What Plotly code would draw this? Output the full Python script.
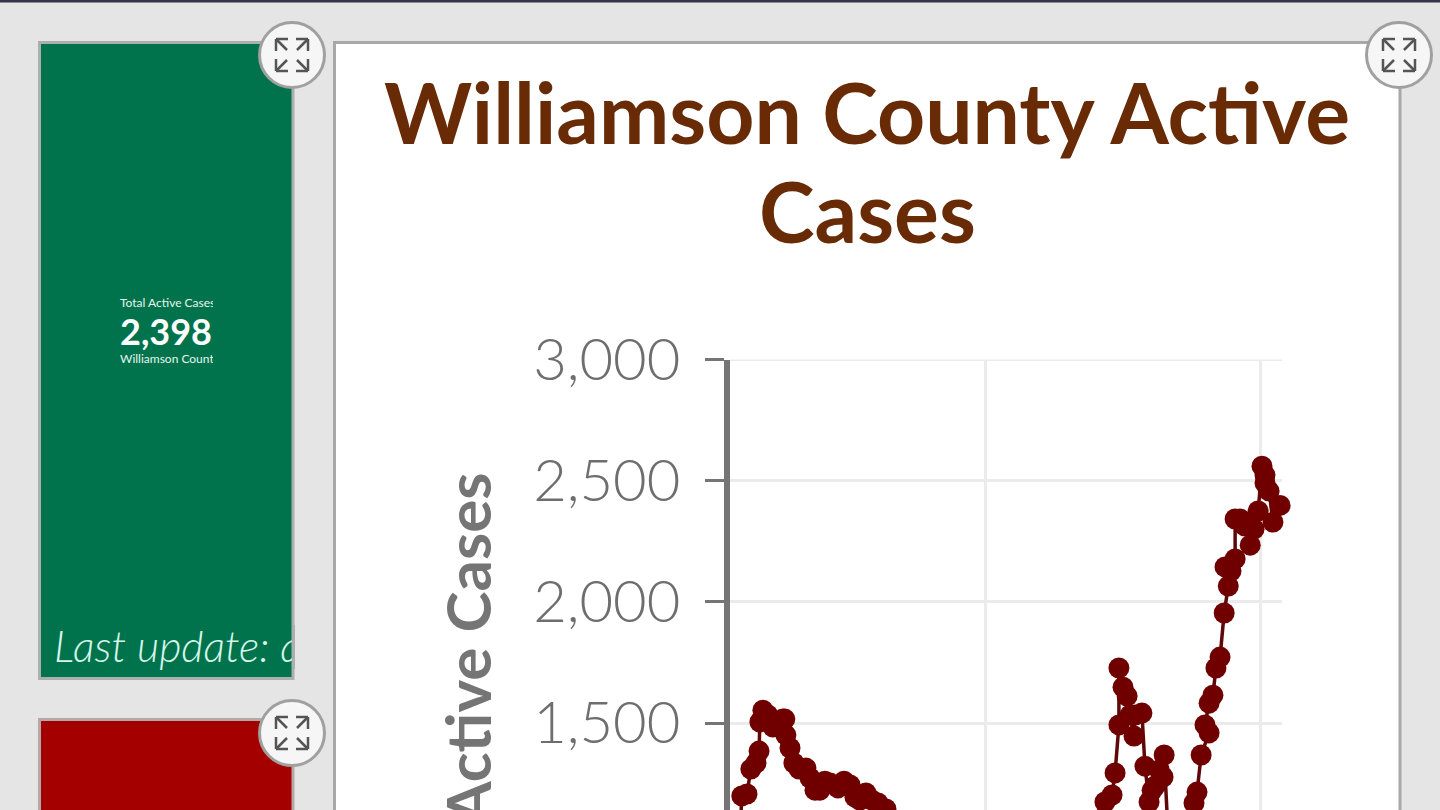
import plotly.graph_objects as go

W, H = 1440, 810

# Active cases
day_a = [10.6,10.9,12.8,14.2,16.1,17.2,17.5,18.6,20.4,22.3,25.9,26.6,27,28.5,29.9,31.8,34.3,35.8,37.6,39.4,41.2,43.1,46,48.2,50.4,52.2,54,56.2,58.4,60.6,63.5]
val_a = [1120,1199,1207,1310,1335,1384,1504,1553,1533,1483,1516,1516,1450,1397,1335,1310,1314,1273,1223,1223,1260,1252,1232,1260,1244,1194,1182,1211,1182,1170,1145]
day_b = [140.9,143.4,146,147.1,148.5,148.5,150,151.5,152.6,154,154.4,156.9,158,159.5,160.6,161.7,163.2,164.6,165,166]
val_b = [1140,1174,1203,1294,1492,1727,1648,1611,1533,1446,1533,1541,1322,1174,1222,1240,1306,1277,1368,1140]
day_c = [175.2,175.9,177,178.5,181.4,179.9,181.4,182.8,183.9,185.4,186.9,188.4,187.2,189.4,190.9,190.9,192.7,194.5,196.4,197.8,199.3,200.7,201.8,201.8,203.3,204.7,207.3]
val_c = [1140,1170,1215,1368,1459,1492,1582,1615,1727,1772,1954,2065,2144,2127,2177,2342,2342,2313,2234,2300,2375,2560,2523,2490,2457,2329,2398]
y_ticks = [1500, 2000, 2500, 3000]
x_ticks = [100, 200]
title_line1 = "Williamson County Active"
title_line2 = "Cases"
y_title = "Active Cases"
card_label = "Total Active Cases"
card_value = "2,398"
card_sub = "Williamson County"
card_note = "Last update: a"

def fx(x):
    return x / W
def fy(y):
    return 1 - y / H

days = day_a + [None] + day_b + [None] + day_c
vals = val_a + [None] + val_b + [None] + val_c

fig = go.Figure(go.Scatter(
    x=days, y=vals, mode="lines+markers", cliponaxis=False, connectgaps=False,
    line=dict(color="#5e0808", width=3.5),
    marker=dict(color="#700000", size=21),
    hoverinfo="x+y",
))

shapes = []
def rect(x0, y0, x1, y1, fill, line=None, lw=0):
    shapes.append(dict(type="rect", xref="paper", yref="paper", layer="below",
                       x0=fx(x0), x1=fx(x1), y0=fy(y0), y1=fy(y1), fillcolor=fill,
                       line=dict(color=line or fill, width=lw)))

rect(0, 0, W, H, "#e5e5e5")
rect(0, 0, W, 2.5, "#35354a")
rect(39.5, 42.5, 293, 678.5, "#00734c", "#a9b0ae", 3)
rect(39.5, 719.5, 293, H + 10, "#a50000", "#b5a8a8", 3)
rect(334.5, 42.5, 1400, H + 10, "#ffffff", "#a8a8a8", 3)

for cx, cy in [(292, 55), (1399, 55), (292, 733)]:
    shapes.append(dict(type="circle", xref="paper", yref="paper", layer="below",
                       x0=fx(cx - 32.5), x1=fx(cx + 32.5), y0=fy(cy - 32.5), y1=fy(cy + 32.5),
                       fillcolor="#f6f6f6", line=dict(color="#a0a0a0", width=3)))
    for sx in (-1, 1):
        for sy in (-1, 1):
            segs = [((16, 16), (5, 5)), ((16, 16), (4, 16)), ((16, 16), (16, 4))]
            for (a, b), (c, d) in segs:
                shapes.append(dict(type="line", xref="paper", yref="paper", layer="below",
                                   x0=fx(cx + sx * a), y0=fy(cy + sy * b),
                                   x1=fx(cx + sx * c), y1=fy(cy + sy * d),
                                   line=dict(color="#555555", width=2.5)))

# gridline at the very top of the y range
shapes.append(dict(type="line", xref="x domain", yref="y", layer="below", x0=0, x1=1,
                   y0=y_ticks[-1], y1=y_ticks[-1], line=dict(color="#ebebeb", width=3)))

def note(x, y, text, size, color, family="Lato", xanchor="left", yanchor="middle", **kw):
    return dict(xref="paper", yref="paper", x=fx(x), y=fy(y), text=text, showarrow=False,
                xanchor=xanchor, yanchor=yanchor, font=dict(family=family, size=size, color=color, **kw),
                borderpad=0, borderwidth=0)

def cover(x0, y0, x1, y1, color):
    return dict(xref="paper", yref="paper", x=fx(x0), y=fy(y0), text=" ", showarrow=False,
                xanchor="left", yanchor="top", width=x1 - x0, height=y1 - y0, bgcolor=color,
                borderpad=0, borderwidth=0, font=dict(size=1))

ytitle_note = note(466, 473, y_title, 62, "#757575", xanchor="center", yanchor="top", weight=700)
ytitle_note["textangle"] = -90

annotations = [
    note(120, 303, card_label, 12, "#e6f5ee"),
    note(120, 331, card_value, 36, "#ffffff", weight=700),
    note(120, 358, card_sub, 12, "#e6f5ee"),
    cover(213, 295, 260, 366, "#00734c"),
    note(54, 645, card_note, 43, "#d6f6ea", family="Lato Light", style="italic"),
    cover(291.5, 625, 294.5, 669, "#a9b0ae"),
    cover(294.5, 625, 312, 669, "rgb(229,229,229)"),
    note(867, 210, title_line2, 84, "#692b05", xanchor="center", weight=700),
    ytitle_note,
]

fig.update_layout(
    width=W, height=H, autosize=False,
    margin=dict(l=0, r=0, t=0, b=0, autoexpand=False),
    paper_bgcolor="#e5e5e5", plot_bgcolor="rgba(0,0,0,0)",
    showlegend=False, shapes=shapes, annotations=annotations,
    title=dict(text=title_line1, x=867 / W, xanchor="center", xref="paper", y=fy(115), yref="paper", yanchor="middle",
               font=dict(family="Lato", size=84, color="#692b05", weight=700)),
    xaxis=dict(domain=[fx(730), fx(1282)], range=[6.6, 208], tickvals=x_ticks, showticklabels=False, automargin=False,
               showgrid=True, gridcolor="#ebebeb", gridwidth=3, zeroline=False, showline=False, ticks=""),
    yaxis=dict(domain=[0, fy(359.5)], range=[1141, 3000], tickvals=y_ticks, tickformat=",", automargin=False,
               showgrid=True, gridcolor="#ebebeb", gridwidth=3, zeroline=False,
               showline=True, linecolor="#757575", linewidth=6,
               ticks="outside", ticklen=19, tickwidth=3, tickcolor="#757575", ticklabelstandoff=13,
               tickfont=dict(family="Lato Light", size=58, color="#6e6e6e")),
)

fig.write_html("out.html", config=dict(displayModeBar=False),
               post_script="document.body.style.margin='0';document.body.style.overflow='hidden';")
